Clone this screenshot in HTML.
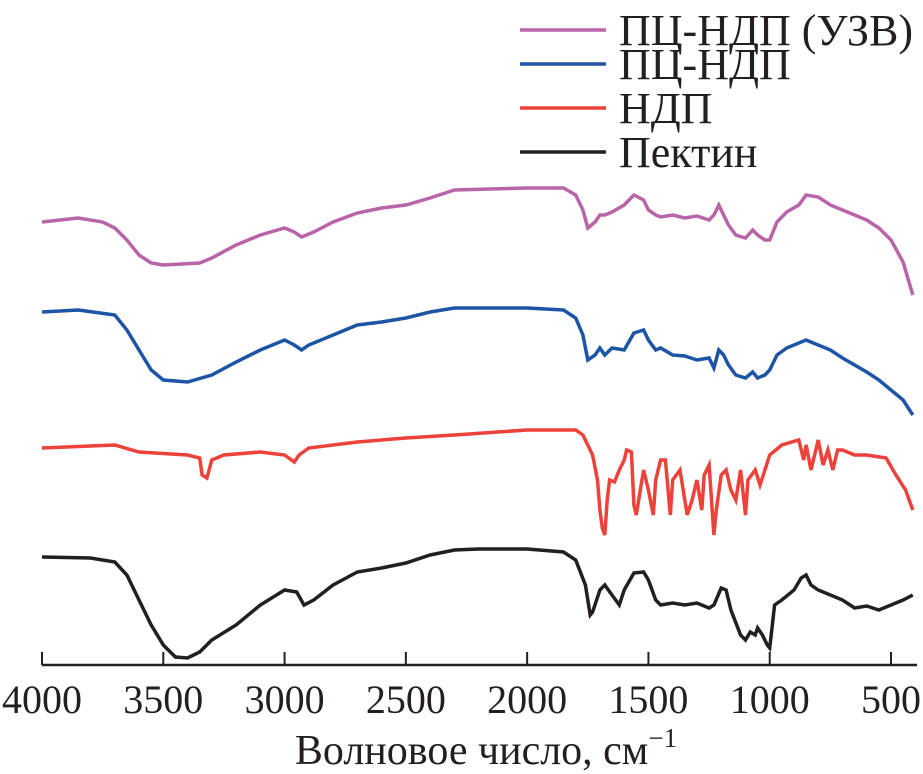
<!DOCTYPE html>
<html><head><meta charset="utf-8"><style>
html,body{margin:0;padding:0;background:#fff}
svg{display:block}
text{font-family:"Liberation Serif",serif;fill:#231f20}
</style></head><body>
<svg id="chart" width="923" height="774" viewBox="0 0 923 774">
<g id="axis"></g>
<g id="series"></g>
<g id="legend"></g>
<text x="486" y="764" font-size="42" text-anchor="middle">Волновое число, см<tspan font-size="27" dy="-17">−1</tspan></text>
</svg>
<script>
const xTicks=[4000,3500,3000,2500,2000,1500,1000,500];
const pectinWn=[4000,3800,3700,3650,3600,3550,3500,3450,3400,3350,3300,3200,3100,3000,2950,2920,2880,2800,2700,2600,2500,2400,2300,2200,2000,1850,1800,1760,1740,1730,1700,1680,1650,1620,1600,1560,1520,1500,1470,1450,1400,1350,1300,1250,1230,1200,1180,1160,1120,1100,1080,1060,1050,1030,1010,1000,980,950,900,870,850,830,800,750,700,650,600,550,500,450,410];
const pectinVal=[108,107,103,90,65,40,20,8,7,13,25,40,60,75,73,60,65,80,93,97,102,110,115,116,116,113,105,80,50,53,75,80,70,60,75,92,93,85,65,60,62,60,62,57,60,77,75,55,30,25,33,30,37,30,20,17,60,65,75,87,90,80,75,70,65,57,59,55,60,65,70];
const ndpWn=[4000,3700,3600,3400,3350,3340,3320,3300,3250,3100,3000,2960,2940,2900,2700,2500,2300,2000,1800,1770,1730,1710,1700,1690,1680,1670,1660,1640,1620,1600,1590,1570,1560,1550,1540,1520,1500,1480,1470,1450,1430,1410,1400,1370,1340,1320,1300,1280,1270,1250,1230,1220,1200,1180,1160,1140,1120,1100,1090,1060,1040,1020,1000,950,880,860,850,830,810,800,780,760,740,720,700,650,600,520,480,440,410];
const ndpVal=[217,220,213,210,207,190,187,205,210,213,210,203,210,217,223,227,230,235,235,230,210,185,155,137,130,165,185,183,195,205,215,213,160,150,165,195,175,150,185,205,205,150,185,195,150,165,185,155,190,200,130,155,190,195,175,165,195,150,185,195,180,195,210,220,225,205,220,195,215,225,200,215,195,215,215,210,210,207,190,175,155];
const pcWn=[4000,3850,3700,3650,3600,3550,3500,3400,3300,3200,3100,3000,2960,2930,2900,2800,2700,2600,2500,2400,2300,2000,1850,1800,1770,1750,1720,1700,1680,1650,1600,1560,1520,1500,1470,1450,1400,1350,1300,1250,1230,1210,1190,1170,1140,1100,1070,1050,1020,1000,970,930,880,850,800,750,700,650,600,550,500,450,410];
const pcVal=[353,355,350,335,315,295,285,283,290,303,315,325,320,315,320,330,340,343,347,353,357,357,355,347,330,305,310,317,310,317,315,332,335,325,315,317,310,309,305,307,297,315,310,300,290,287,293,287,290,295,310,317,322,325,320,315,307,300,293,285,275,265,250];
const pcUsWn=[4000,3850,3750,3700,3650,3600,3550,3500,3350,3300,3200,3100,3000,2960,2930,2880,2800,2700,2600,2500,2400,2300,2000,1850,1800,1770,1750,1720,1700,1680,1650,1600,1560,1520,1500,1470,1450,1400,1350,1300,1250,1230,1210,1190,1170,1140,1100,1070,1050,1020,1000,970,930,880,850,800,750,700,650,600,550,500,450,410];
const pcUsVal=[443,447,443,437,425,410,402,400,402,407,420,430,437,433,428,433,443,452,457,460,467,475,477,477,470,455,437,443,450,450,453,460,470,465,455,450,448,450,447,449,445,450,460,450,440,430,427,435,430,425,425,443,453,460,470,468,460,455,450,445,437,425,403,370];
const legendLabels=["ПЦ-НДП (УЗВ)","ПЦ-НДП","НДП","Пектин"];
const NS="http://www.w3.org/2000/svg";
const X0=42,X1=891,AXY=665;
function xs(w){return X0+(4000-w)*(X1-X0)/3500;}
function ys(v){return AXY-v;}
function mk(t,a,p){const e=document.createElementNS(NS,t);for(const k in a)e.setAttribute(k,a[k]);p.appendChild(e);return e;}
const ax=document.getElementById('axis');
const al=mk('line',{x1:X0,x2:917,y1:AXY,y2:AXY,stroke:'#231f20','stroke-width':2.5},ax);


xTicks.forEach(t=>{
  const l=mk('line',{x1:xs(t),x2:xs(t),y1:AXY-13,y2:AXY,stroke:'#231f20','stroke-width':2},ax);
  
  
  const tx=mk('text',{x:xs(t),y:713,'font-size':40,'text-anchor':'middle'},ax);
  tx.textContent=t;
  
  
});
const sg=document.getElementById('series');
const series=[[pcUsWn,pcUsVal,'#b964a8','series-pc-ndp-uzv'],[pcWn,pcVal,'#1d55a6','series-pc-ndp'],[ndpWn,ndpVal,'#ec4239','series-ndp'],[pectinWn,pectinVal,'#231f20','series-pectin']];
series.forEach(s=>{
  const pts=s[0].map((w,i)=>xs(w).toFixed(1)+','+ys(s[1][i]).toFixed(1)).join(' ');
  const p=mk('polyline',{points:pts,fill:'none',stroke:s[2],'stroke-width':3.5,'stroke-linejoin':'miter'},sg);
  
  
});
const lg=document.getElementById('legend');
const ly=[30,64,108,152];
legendLabels.forEach((lab,i)=>{
  const l=mk('line',{x1:520,x2:606,y1:ly[i],y2:ly[i],stroke:series[i][2],'stroke-width':3.5},lg);
  
  
  const t=mk('text',{x:619,y:ly[i]+15,'font-size':44},lg);
  t.textContent=lab;
  
  
});
</script>
</body></html>
